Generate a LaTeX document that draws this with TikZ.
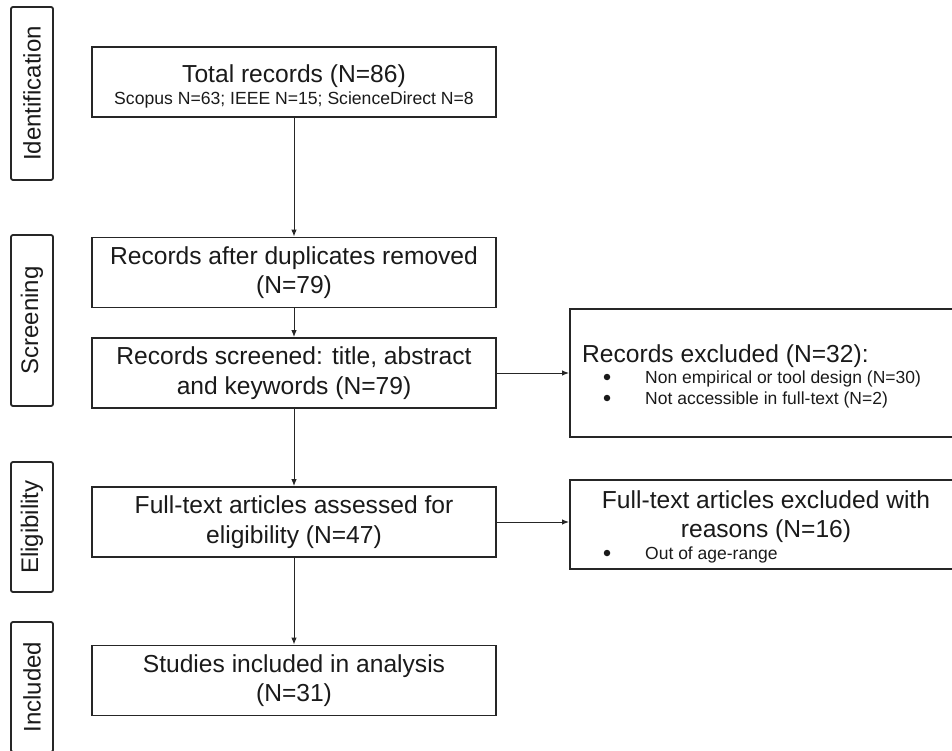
\documentclass[tikz,border=0pt]{standalone}
\usepackage{fontspec}
\setmainfont{Liberation Sans}
\usetikzlibrary{arrows.meta}
\definecolor{ln}{HTML}{262626}
\definecolor{tx}{HTML}{1A1A1A}
\newcommand\bigfnt{\fontsize{24.6}{29.5}\selectfont}
\newcommand\smallfnt{\fontsize{17.6}{21}\selectfont}
\newcommand\bulfnt{\fontsize{17.5}{21}\selectfont}
\newcommand\sidefnt{\fontsize{24}{28}\selectfont}
\begin{document}
\begin{tikzpicture}[x=1pt,y=-1pt,
  mainbox/.style={draw=ln, line width=1.8pt, minimum width=404pt, minimum height=70pt,
    align=center, inner sep=0pt, font=\bigfnt, text=tx},
  sidebox/.style={draw=ln, line width=1.8pt, rounded corners=2pt, rotate=90,
    minimum height=42pt, inner sep=0pt, font=\sidefnt, text=tx},
  rbox/.style={draw=ln, line width=1.8pt, anchor=north west, inner sep=0pt},
  lbl/.style={inner sep=0pt, text=tx},
  bullet/.style={circle, fill=tx, inner sep=0pt, minimum size=6.5pt},
  arr/.style={draw=ln, line width=1pt, -{Latex[length=7pt,width=5.5pt]}}
]
\useasboundingbox (0,0) rectangle (952,751);
\clip (0,0) rectangle (952,751);

% side stage labels
\node[sidebox, minimum width=173pt] (sid) at (32,93.5) {Identification};
\node[sidebox, minimum width=171pt] (sscr) at (32,320.5) {Screening};
\node[sidebox, minimum width=130pt] (selig) at (32,527) {Eligibility};
\node[sidebox, minimum width=130pt] (sinc) at (32,687) {Included};

% main column
\node[mainbox] (b1) at (294,82) {\rule{0pt}{27pt}Total records (N=86)\\[-7pt]{\smallfnt Scopus N=63; IEEE N=15; ScienceDirect N=8}};
\node[mainbox] (b2) at (294,272.5) {Records after duplicates removed\\(N=79)};
\node[mainbox] (b3) at (294,373) {Records screened: title, abstract\\and keywords (N=79)};
\node[mainbox] (b4) at (294,522) {Full-text articles assessed for\\eligibility (N=47)};
\node[mainbox] (b5) at (294,680.5) {Studies included in analysis\\(N=31)};

% right column
\node[rbox, minimum width=420pt, minimum height=128pt] (r1) at (569,308) {};
\node[lbl, anchor=base west, font=\bigfnt] (r1t) at (582,362) {Records excluded (N=32):};
\node[bullet] (r1b1) at (607,377) {};
\node[lbl, anchor=base west, font=\bulfnt] (r1i1) at (645,383) {Non empirical or tool design (N=30)};
\node[bullet] (r1b2) at (607,398) {};
\node[lbl, anchor=base west, font=\bulfnt] (r1i2) at (645,404) {Not accessible in full-text (N=2)};

\node[rbox, minimum width=420pt, minimum height=89pt] (r2) at (569,479) {};
\node[lbl, anchor=base, font=\bigfnt] (r2t1) at (766,508) {Full-text articles excluded with};
\node[lbl, anchor=base, font=\bigfnt] (r2t2) at (766,537) {reasons (N=16)};
\node[bullet] (r2b1) at (607,553) {};
\node[lbl, anchor=base west, font=\bulfnt] (r2i1) at (645,559) {Out of age-range};

% connectors
\draw[arr] (b1) -- (b2);
\draw[arr] (b2) -- (b3);
\draw[arr] (b3) -- (b4);
\draw[arr] (b4) -- (b5);
\draw[arr] (b3.east) -- (b3.east -| r1.west);
\draw[arr] (b4.east) -- (b4.east -| r2.west);
\end{tikzpicture}
\end{document}
